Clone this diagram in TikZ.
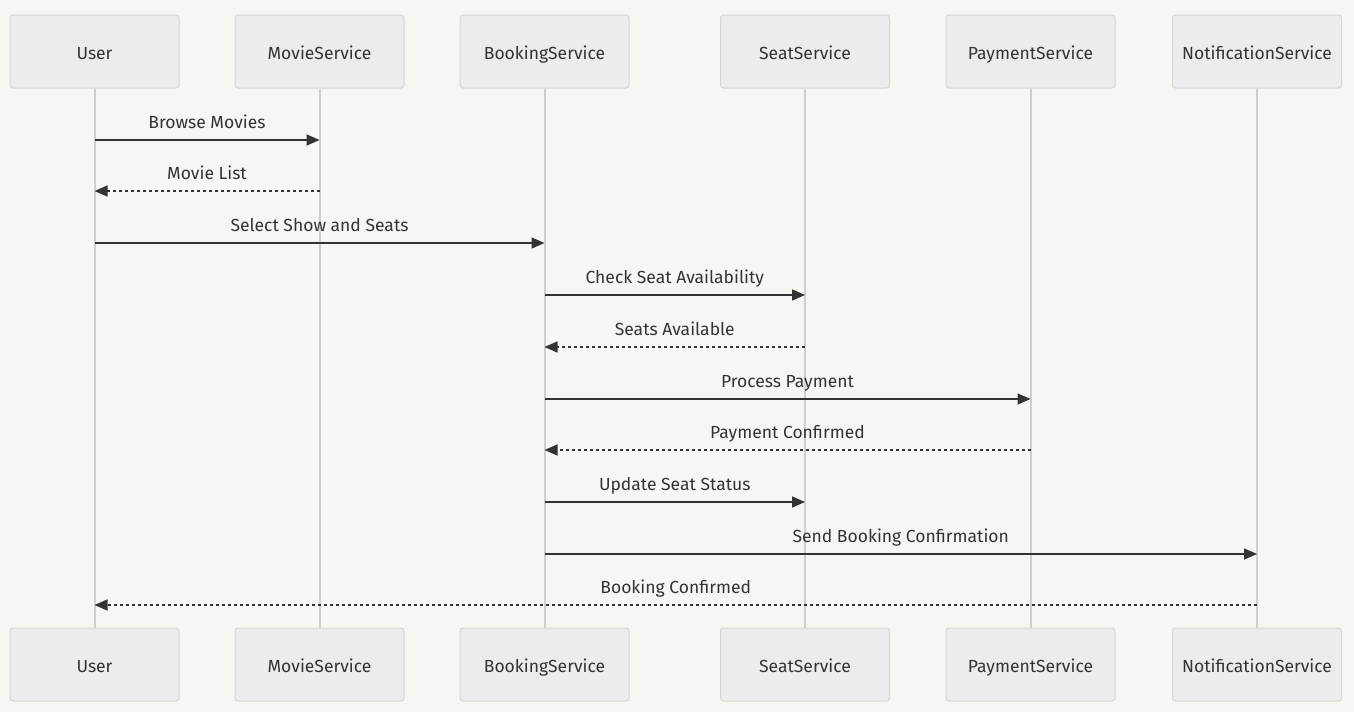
\documentclass[tikz,border=0pt]{standalone}
\usepackage{fontspec}
\setsansfont{Fira Sans}
\usepackage{xcolor}
\usetikzlibrary{arrows.meta}

\definecolor{bgcol}{HTML}{F7F6F3}
\definecolor{boxfill}{HTML}{ECECEC}
\definecolor{boxline}{HTML}{D6D6D6}
\definecolor{lifecol}{HTML}{CFCFCF}
\definecolor{msgcol}{HTML}{333333}
\definecolor{textcol}{HTML}{333333}

\begin{document}
\begin{tikzpicture}[x=1pt, y=-1pt, font=\sffamily\fontsize{17.5}{21}\selectfont,
    actor/.style={draw=boxline, fill=boxfill, line width=1pt, rounded corners=3pt, minimum width=169pt, minimum height=73pt, inner sep=8pt, text height=15pt, text depth=0pt, text=textcol},
    life/.style={draw=lifecol, line width=2pt},
    msg/.style={draw=msgcol, line width=1.5pt, -{Triangle[length=13pt, width=11pt]}},
    reply/.style={msg, dash pattern=on 3pt off 3pt},
    lbl/.style={text=textcol, anchor=base, yshift=12pt}]
    \fill[bgcol] (0,0) rectangle (1354,712);

    \foreach \n/\x/\t in {user/94.5/User, movie/319.5/MovieService, booking/544.5/BookingService,
        seat/805/SeatService, payment/1030.5/PaymentService, notify/1257/NotificationService} {
        \node[actor] (\n T) at (\x,51.5) {\t};
        \node[actor] (\n B) at (\x,664.5) {\t};
        \draw[life] (\n T) -- (\n B);
    }

    \draw[msg]   (userT |- 0,140) -- node[lbl] {Browse Movies} (movieT |- 0,140);
    \draw[reply] (movieT |- 0,191) -- node[lbl] {Movie List} (userT |- 0,191);
    \draw[msg]   (userT |- 0,243) -- node[lbl] {Select Show and Seats} (bookingT |- 0,243);
    \draw[msg]   (bookingT |- 0,295) -- node[lbl] {Check Seat Availability} (seatT |- 0,295);
    \draw[reply] (seatT |- 0,347) -- node[lbl] {Seats Available} (bookingT |- 0,347);
    \draw[msg]   (bookingT |- 0,399) -- node[lbl] {Process Payment} (paymentT |- 0,399);
    \draw[reply] (paymentT |- 0,450) -- node[lbl] {Payment Confirmed} (bookingT |- 0,450);
    \draw[msg]   (bookingT |- 0,502) -- node[lbl] {Update Seat Status} (seatT |- 0,502);
    \draw[msg]   (bookingT |- 0,554) -- node[lbl] {Send Booking Confirmation} (notifyT |- 0,554);
    \draw[reply] (notifyT |- 0,605) -- node[lbl] {Booking Confirmed} (userT |- 0,605);
\end{tikzpicture}
\end{document}
